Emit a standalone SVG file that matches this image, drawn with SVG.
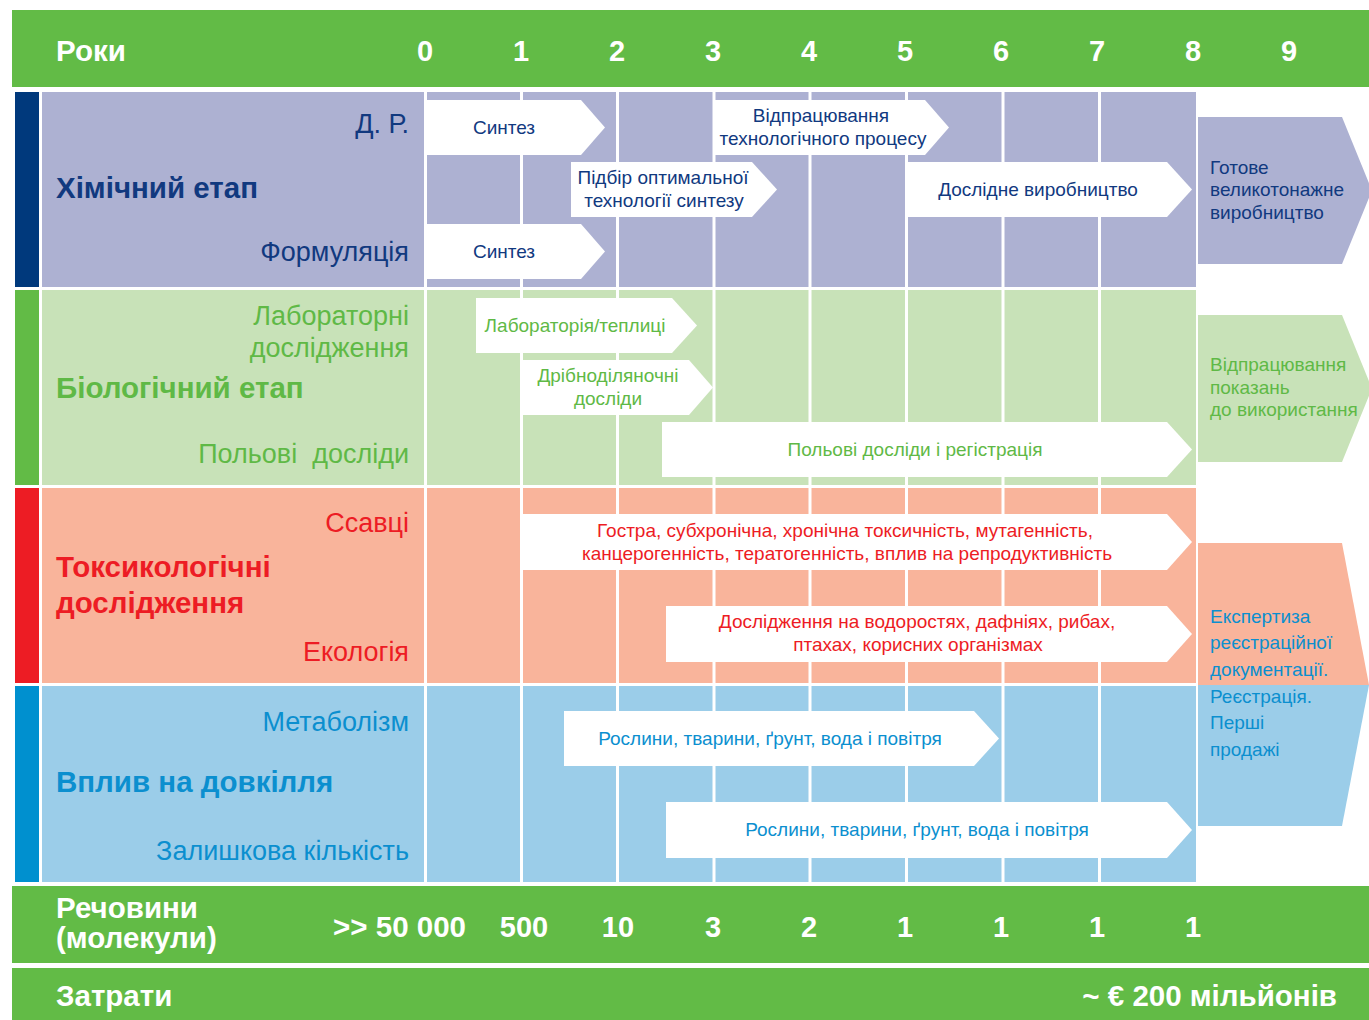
<svg xmlns="http://www.w3.org/2000/svg" width="1369" height="1020" viewBox="0 0 1369 1020">
<style>
text{font-family:"Liberation Sans",Arial,sans-serif}
.hb{font-weight:bold;font-size:29.5px;fill:#fff}
.num{font-weight:bold;font-size:29px;fill:#fff;text-anchor:middle}
.lab{font-size:27px;text-anchor:end}
.ttl{font-size:29.5px;font-weight:bold}
.at{font-size:19px;text-anchor:middle}
.rt{font-size:19px}
.arr{fill:#fff}
.gl{fill:#fff}
.chem{fill:#11397f}.bio{fill:#5fb946}.tox{fill:#ed1c24}.env{fill:#0b8fcf}
</style>
<defs>
<g id="vlines">
<rect class="gl" x="424" y="0" width="3" height="196"/>
<rect class="gl" x="520" y="0" width="3" height="196"/>
<rect class="gl" x="616" y="0" width="3" height="196"/>
<rect class="gl" x="712.5" y="0" width="3" height="196"/>
<rect class="gl" x="808.5" y="0" width="3" height="196"/>
<rect class="gl" x="905" y="0" width="3" height="196"/>
<rect class="gl" x="1001.5" y="0" width="3" height="196"/>
<rect class="gl" x="1098" y="0" width="3" height="196"/>
</g>
</defs>
<rect width="1369" height="1020" fill="#fff"/>

<g id="header">
<rect x="12" y="10" width="1357" height="77" fill="#62bb46"/>
<text class="hb" x="56" y="61">Роки</text>
<text class="num" x="425" y="61">0</text>
<text class="num" x="521" y="61">1</text>
<text class="num" x="617" y="61">2</text>
<text class="num" x="713" y="61">3</text>
<text class="num" x="809" y="61">4</text>
<text class="num" x="905" y="61">5</text>
<text class="num" x="1001" y="61">6</text>
<text class="num" x="1097" y="61">7</text>
<text class="num" x="1193" y="61">8</text>
<text class="num" x="1289" y="61">9</text>
</g>

<g id="row-chem">
<rect x="15" y="92" width="24" height="195" fill="#00397c"/>
<rect x="42" y="92" width="1154" height="195" fill="#adb1d2"/>
<use href="#vlines" transform="translate(0,91.5)"/>
<text class="lab chem" x="409" y="133">Д. Р.</text>
<text class="ttl chem" x="56" y="198">Хімічний етап</text>
<text class="lab chem" x="409" y="261">Формуляція</text>
</g>

<g id="row-bio">
<rect x="15" y="290" width="24" height="195" fill="#62bb46"/>
<rect x="42" y="290" width="1154" height="195" fill="#c8e2b8"/>
<use href="#vlines" transform="translate(0,290)"/>
<text class="lab bio" x="409" y="325">Лабораторні</text>
<text class="lab bio" x="409" y="357">дослідження</text>
<text class="ttl bio" x="56" y="398">Біологічний етап</text>
<text class="lab bio" x="409" y="463" style="white-space:pre">Польові  досліди</text>
</g>

<g id="row-tox">
<rect x="15" y="488" width="24" height="195" fill="#ed1c24"/>
<rect x="42" y="488" width="1154" height="195" fill="#f9b49b"/>
<use href="#vlines" transform="translate(0,488)"/>
<text class="lab tox" x="409" y="532">Ссавці</text>
<text class="ttl tox" x="56" y="577">Токсикологічні</text>
<text class="ttl tox" x="56" y="613">дослідження</text>
<text class="lab tox" x="409" y="661">Екологія</text>
</g>

<g id="row-env">
<rect x="15" y="686" width="24" height="196" fill="#0090cf"/>
<rect x="42" y="686" width="1154" height="196" fill="#9bcde9"/>
<use href="#vlines" transform="translate(0,686)"/>
<text class="lab env" x="409" y="731">Метаболізм</text>
<text class="ttl env" x="56" y="792">Вплив на довкілля</text>
<text class="lab env" x="409" y="860">Залишкова кількість</text>
</g>

<g id="connectors">
<g id="a-chem-synth1"><polygon class="arr" points="427,100 581,100 605,127.5 581,155 427,155"/><text class="at chem" x="504" y="134">Синтез</text></g>
<g id="a-chem-opt"><polygon class="arr" points="571,162 752,162 777,189.5 752,217 571,217"/><text class="at chem" x="663" y="184">Підбір оптимальної</text><text class="at chem" x="664" y="207">технології синтезу</text></g>
<g id="a-chem-synth2"><polygon class="arr" points="427,224 581,224 605,251.5 581,279 427,279"/><text class="at chem" x="504" y="258">Синтез</text></g>
<g id="a-chem-proc"><polygon class="arr" points="714,100 925,100 949,127.5 925,155 714,155"/><text class="at chem" x="821" y="122">Відпрацювання</text><text class="at chem" x="823" y="145">технологічного процесу</text></g>
<g id="a-chem-pilot"><polygon class="arr" points="907,162 1167,162 1192,189.5 1167,217 907,217"/><text class="at chem" x="1038" y="196">Дослідне виробництво</text></g>

<g id="a-bio-lab"><polygon class="arr" points="476,298 672,298 697,325.5 672,353 476,353"/><text class="at bio" x="575" y="332">Лабораторія/теплиці</text></g>
<g id="a-bio-small"><polygon class="arr" points="523,360 689,360 713,387.5 689,415 523,415"/><text class="at bio" x="608" y="382">Дрібноділяночні</text><text class="at bio" x="608" y="405">досліди</text></g>
<g id="a-bio-field"><polygon class="arr" points="662,422 1167,422 1192,449.5 1167,477 662,477"/><text class="at bio" x="915" y="456">Польові досліди і регістрація</text></g>

<g id="a-tox-mam"><polygon class="arr" points="523,514 1167,514 1192,542 1167,570 523,570"/><text class="at tox" x="845" y="537">Гостра, субхронічна, хронічна токсичність, мутагенність,</text><text class="at tox" x="847" y="560">канцерогенність, тератогенність, вплив на репродуктивність</text></g>
<g id="a-tox-eco"><polygon class="arr" points="666,606 1167,606 1192,634 1167,662 666,662"/><text class="at tox" x="917" y="628">Дослідження на водоростях, дафніях, рибах,</text><text class="at tox" x="918" y="651">птахах, корисних організмах</text></g>

<g id="a-env-met"><polygon class="arr" points="564,711 974,711 999,738.5 974,766 564,766"/><text class="at env" x="770" y="745">Рослини, тварини, ґрунт, вода і повітря</text></g>
<g id="a-env-res"><polygon class="arr" points="666,802 1167,802 1192,830 1167,858 666,858"/><text class="at env" x="917" y="836">Рослини, тварини, ґрунт, вода і повітря</text></g>
</g>

<g id="r-chem">
<polygon points="1198,117 1342,117 1372,190.5 1342,264 1198,264" fill="#adb1d2"/>
<text class="rt chem" x="1210" y="174">Готове</text>
<text class="rt chem" x="1210" y="196">великотонажне</text>
<text class="rt chem" x="1210" y="219">виробництво</text>
</g>
<g id="r-bio">
<polygon points="1198,315 1342,315 1372,388.5 1342,462 1198,462" fill="#c8e2b8"/>
<text class="rt bio" x="1210" y="371">Відпрацювання</text>
<text class="rt bio" x="1210" y="394">показань</text>
<text class="rt bio" x="1210" y="416">до використання</text>
</g>
<g id="r-reg">
<polygon points="1198,543 1342,543 1369,685 1198,685" fill="#f9b49b"/>
<polygon points="1198,685 1369,685 1342,826 1198,826" fill="#9bcde9"/>
<text class="rt env" x="1210" y="623">Експертиза</text>
<text class="rt env" x="1210" y="649">реєстраційної</text>
<text class="rt env" x="1210" y="676">документації.</text>
<text class="rt env" x="1210" y="703">Реєстрація.</text>
<text class="rt env" x="1210" y="729">Перші</text>
<text class="rt env" x="1210" y="756">продажі</text>
</g>

<g id="substances">
<rect x="12" y="886" width="1357" height="77" fill="#62bb46"/>
<text class="hb" x="56" y="918">Речовини</text>
<text class="hb" x="56" y="948">(молекули)</text>
<text class="hb" x="466" y="937" text-anchor="end" font-size="29">&gt;&gt; 50 000</text>
<text class="num" x="524" y="937">500</text>
<text class="num" x="618" y="937">10</text>
<text class="num" x="713" y="937">3</text>
<text class="num" x="809" y="937">2</text>
<text class="num" x="905" y="937">1</text>
<text class="num" x="1001" y="937">1</text>
<text class="num" x="1097" y="937">1</text>
<text class="num" x="1193" y="937">1</text>
</g>

<g id="costs">
<rect x="12" y="968" width="1357" height="52" fill="#62bb46"/>
<text class="hb" x="56" y="1006">Затрати</text>
<text class="hb" x="1337" y="1006" text-anchor="end" font-size="29">~ € 200 мільйонів</text>
</g>
</svg>
